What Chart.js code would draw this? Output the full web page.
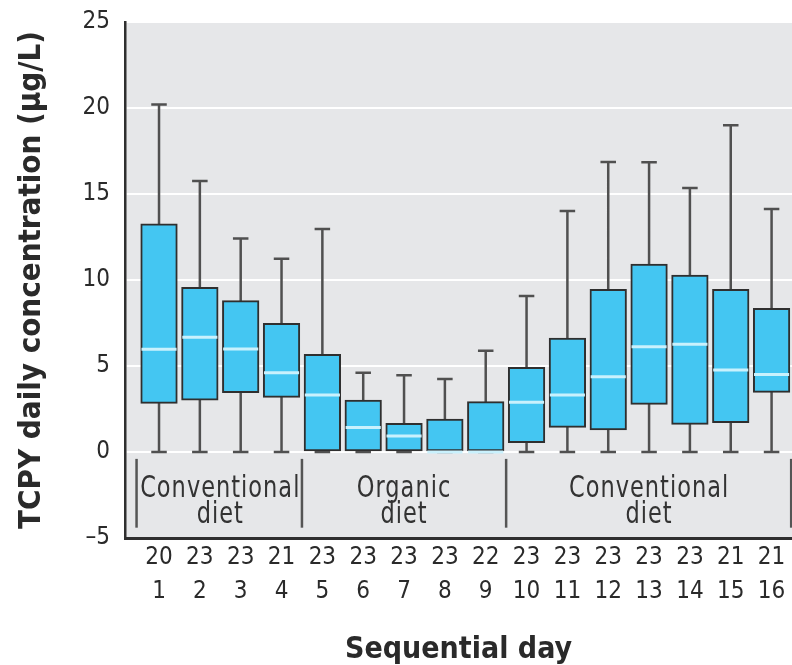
<!DOCTYPE html>
<html><head><meta charset="utf-8">
<script src="https://cdn.jsdelivr.net/npm/chart.js@4.4.1/dist/chart.umd.min.js"></script>
<style>html,body{margin:0;padding:0;background:#fff}#wrap{width:792px;height:665px;position:relative}</style>
</head><body><div id="wrap"><canvas id="c"></canvas></div>
<script>
// ---- data ----
const days = [1,2,3,4,5,6,7,8,9,10,11,12,13,14,15,16];
const sampleN = [20,23,23,21,23,23,23,23,22,23,23,23,23,23,21,21];
const whiskerLow = [0,0,0,0,0,0,0,0,0,0,0,0,0,0,0,0];
const q1 = [2.83,3.02,3.45,3.18,0,0,0,0,0,0.54,1.43,1.28,2.77,1.61,1.71,3.47];
const median = [5.97,6.67,5.99,4.61,3.31,1.43,0.93,0,0,2.89,3.31,4.38,6.12,6.26,4.77,4.50];
const q3 = [13.26,9.57,8.80,7.48,5.68,3.02,1.67,1.92,2.93,4.92,6.63,9.46,10.93,10.29,9.46,8.35];
const whiskerHigh = [20.2,15.75,12.42,11.24,12.97,4.61,4.46,4.24,5.89,9.07,14.01,16.86,16.84,15.35,18.99,14.13];
const groupLabels = [['Conventional','diet'],['Organic','diet'],['Conventional','diet']];
const groupFirstDay = [1,5,10];
const groupLastDay = [4,9,16];
const yTickValues = [-5,0,5,10,15,20,25];

// ---- styles ----
const FONT = "'Liberation Sans Narrow','Arial Narrow','DejaVu Sans Condensed',sans-serif";
const TEXT = '#2a2a2a';
const CAP = 0.19;      // half cap width, x units
const MED = 0.43;      // half median width, x units

// whisker segments (vertical + caps)
const whiskerPts = [];
days.forEach((d, i) => {
  whiskerPts.push({x:d, y:whiskerLow[i]}, {x:d, y:whiskerHigh[i]}, {x:d, y:null});
  whiskerPts.push({x:d-CAP, y:whiskerHigh[i]}, {x:d+CAP, y:whiskerHigh[i]}, {x:d, y:null});
  whiskerPts.push({x:d-CAP, y:whiskerLow[i]}, {x:d+CAP, y:whiskerLow[i]}, {x:d, y:null});
});
const medianPts = [];
days.forEach((d, i) => {
  medianPts.push({x:d-MED, y:median[i]}, {x:d+MED, y:median[i]}, {x:d, y:null});
});
const boxes = days.map((d, i) => ({x:d, y:[q1[i], q3[i]]}));

const bgPlugin = {
  id: 'bg',
  beforeDraw(chart) {
    const {ctx, chartArea:a} = chart;
    ctx.save();
    ctx.fillStyle = '#e6e7e9';
    ctx.fillRect(a.left, a.top, a.right - a.left, a.bottom - a.top);
    ctx.restore();
  }
};
const groupPlugin = {
  id: 'groups',
  beforeDatasetsDraw(chart) {
    const {ctx} = chart;
    const xs = chart.scales.x, ys = chart.scales.y;
    ctx.save();
    ctx.strokeStyle = '#555';
    ctx.lineWidth = 2.5;
    const bounds = [groupFirstDay[0] - 0.55];
    groupLastDay.forEach((e, k) => bounds.push(k < groupLastDay.length - 1 ? (e + groupFirstDay[k+1]) / 2 : e + 0.48));
    bounds.forEach(b => {
      const px = xs.getPixelForValue(b);
      ctx.beginPath();
      ctx.moveTo(px, ys.getPixelForValue(-0.4));
      ctx.lineTo(px, ys.getPixelForValue(-4.4));
      ctx.stroke();
    });
    ctx.fillStyle = '#333';
    ctx.font = `25px ${FONT}`;
    ctx.textAlign = 'center';
    ctx.textBaseline = 'alphabetic';
    try { ctx.letterSpacing = '1px'; } catch(e) {}
    const SY = 1.22;
    groupLabels.forEach((lines, k) => {
      const cx = xs.getPixelForValue((groupFirstDay[k] + groupLastDay[k]) / 2);
      [[lines[0], -2.6], [lines[1], -4.15]].forEach(([t, v]) => {
        const py = ys.getPixelForValue(v);
        ctx.save();
        ctx.translate(cx, py);
        ctx.scale(1, SY);
        ctx.fillText(t, 0, 0);
        ctx.restore();
      });
    });
    ctx.restore();
  }
};

new Chart(document.getElementById('c'), {
  type: 'bar',
  data: {
    datasets: [
      { type:'line', data: whiskerPts, borderColor:'#505050', borderWidth:2.5, pointRadius:0, spanGaps:false, order:3 },
      { type:'bar', data: boxes, backgroundColor:'#44c6f2', borderColor:'#2f2f2f', borderWidth:2, borderSkipped:false, barThickness:36.6, order:2 },
      { type:'line', data: medianPts, borderColor:'#c9f1fd', borderWidth:3, pointRadius:0, spanGaps:false, order:1 }
    ]
  },
  options: {
    responsive: true,
    maintainAspectRatio: false,
    animation: false,
    layout: { padding: { top: 22, right: 0, bottom: 0, left: 0 } },
    plugins: { legend: {display:false}, tooltip: {enabled:false} },
    scales: {
      x: {
        type: 'linear', min: 0.167, max: 16.5, offset: false,
        grid: { display:false, drawTicks:false },
        border: { display:true, color:'#2f2f2f', width:3 },
        afterBuildTicks: s => { s.ticks = days.map(v => ({value:v})); },
        afterFit: s => { s.height = 127; },
        ticks: {
          autoSkip:false, maxRotation:0, padding: 2, color: TEXT,
          font: { family: FONT, size: 24, lineHeight: 1.45 },
          callback: (v) => { const i = days.indexOf(v); return [String(sampleN[i]), String(days[i])]; }
        },
        title: { display:true, text:'Sequential day', color:TEXT, padding:{top:0,bottom:0},
                 font: { family: FONT, size: 30, weight:'bold', lineHeight:1.0 } }
      },
      y: {
        min: -5, max: 25,
        afterBuildTicks: s => { s.ticks = yTickValues.map(v => ({value:v})); },
        afterFit: s => { s.width = 125; s.paddingTop = 0; s.paddingBottom = 0; },
        grid: { drawTicks:false, lineWidth:2, color: c => (c.tick && c.tick.value === -5) ? 'rgba(0,0,0,0)' : '#ffffff' },
        border: { display:true, color:'#2f2f2f', width:2.5 },
        ticks: { padding: 15, color: TEXT, font: { family: FONT, size: 24 },
                 callback: v => v < 0 ? '\u2013' + Math.abs(v) : String(v) },
        title: { display:true, text:'TCPY daily concentration (\u03bcg/L)', color:TEXT, padding:{top:13,bottom:0},
                 font: { family: FONT, size: 31, weight:'bold', lineHeight:1.2 } }
      }
    }
  },
  plugins: [bgPlugin, groupPlugin]
});
</script>
</body></html>
